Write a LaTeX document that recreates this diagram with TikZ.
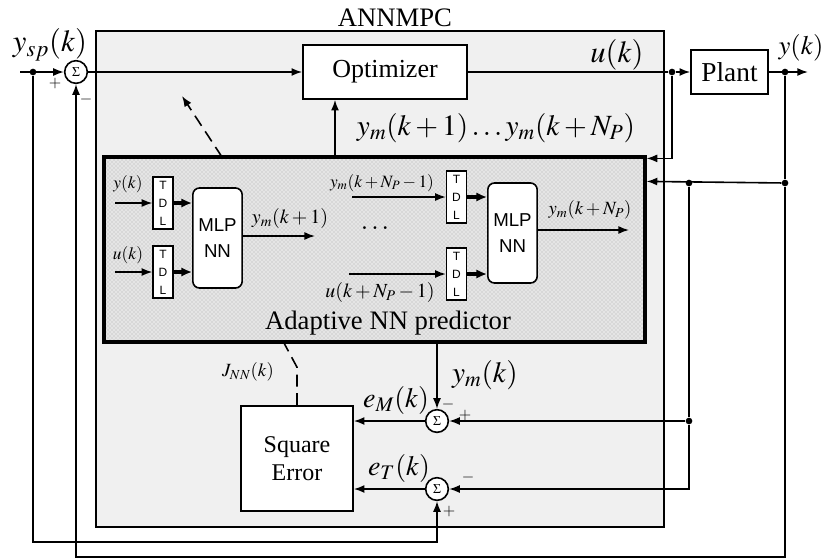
\documentclass[tikz,border=0pt]{standalone}
\usepackage{mathptmx}
\usepackage{fontspec}
\setmainfont{Liberation Serif}
\newfontfamily\timesfont{Liberation Serif}
\newfontfamily\arialfont{Liberation Sans}
\usetikzlibrary{arrows.meta, positioning, patterns}
\newcommand{\fsz}[1]{\fontsize{#1}{#1}\selectfont}

\begin{document}
\begin{tikzpicture}[
  x=0.75pt, y=-0.75pt,
  wire/.style={line width=1.2pt},
  arrow/.style={wire, -{Latex[length=8pt,width=6pt]}},
  fatarrow/.style={line width=2.6pt, -{Latex[length=8pt,width=7pt]}},
  block/.style={draw, line width=1.2pt, fill=white, align=center, inner sep=0pt, font=\timesfont\fsz{19.5pt}},
  sumnode/.style={draw, circle, line width=1.2pt, fill=white, minimum size=17pt, inner sep=0pt, font=\fsz{10pt}},
  tdlbox/.style={draw, line width=1pt, fill=white, minimum width=15pt, minimum height=39pt, inner sep=0pt, align=center, font=\arialfont\fontsize{9pt}{13.5pt}\selectfont},
  mlpbox/.style={draw, line width=1.2pt, fill=white, rounded corners=5pt, minimum width=37pt, minimum height=75pt, inner sep=0pt, align=center, font=\arialfont\fontsize{14pt}{19pt}\selectfont},
  dot/.style={circle, fill, inner sep=0pt, minimum size=5pt},
  lbl/.style={inner sep=0pt},
  sgn/.style={inner sep=0pt, font=\fsz{12pt}}
]
\useasboundingbox (0,0) rectangle (829,558);

\node[draw, line width=1.2pt, fill=black!6, minimum width=426pt, minimum height=372pt] (annmpc) at (380,279) {};
\node[lbl, font=\timesfont\fsz{20pt}] (title) at (395,18) {ANNMPC};
\node[draw, line width=2.4pt, preaction={fill=black!10}, pattern=crosshatch dots, pattern color=black!32, minimum width=405.75pt, minimum height=138.75pt] (pred) at (374.5,249.5) {};

\node[sumnode] (s1) at (76,72) {$\Sigma$};
\node[block, minimum width=123pt, minimum height=40.5pt] (opt) at (385,72) {Optimizer};
\node[block, minimum width=57.75pt, minimum height=33pt, font=\timesfont\fsz{20.5pt}] (plant) at (729.5,72) {Plant};
\node[block, minimum width=84pt, minimum height=78.75pt, font=\timesfont\fontsize{18pt}{21pt}\selectfont] (se) at (297,458.5) {Square\\Error};
\node[sumnode] (sm) at (437,421) {$\Sigma$};
\node[sumnode] (st) at (437,489) {$\Sigma$};

\node[tdlbox] (tdl1) at (163,203) {T\\D\\L};
\node[tdlbox] (tdl2) at (163,272) {T\\D\\L};
\node[mlpbox] (mlp1) at (217.5,238) {MLP\\NN};
\node[tdlbox] (tdl3) at (456.5,197) {T\\D\\L};
\node[tdlbox] (tdl4) at (456.5,274) {T\\D\\L};
\node[mlpbox] (mlp2) at (512.5,233) {MLP\\NN};

\coordinate (ysp) at (20,72);
\coordinate (yend) at (808,72);
\node[dot] (d1) at (33,72) {};
\node[dot] (d2) at (672,72) {};
\node[dot] (d3) at (785,72) {};
\node[dot] (d5) at (785,183) {};
\node[dot] (d4) at (689,183) {};
\node[dot] (d6) at (689,421) {};
\coordinate (c1) at (785,557);
\coordinate (c2) at (33,542);
\coordinate (ymo) at (335,157);
\coordinate (adp) at (222,157);
\coordinate (adq) at (182,96);
\coordinate (jnn) at (284,343);

\draw[arrow] (ysp) -- (s1);
\draw[arrow] (s1) -- (opt);
\draw[wire] (opt) -- (d2);
\draw[arrow] (d2) -- (plant);
\draw[arrow] (plant) -- (yend);
\draw[arrow] (d2) |- ([yshift=-2.25pt]pred.north east);
\draw[wire] (d3) -- (d5);
\draw[arrow] (d5) -- ([yshift=-19.5pt]pred.north east);
\draw[arrow] (d5) -- (c1) -| (s1);
\draw[wire] (d4) -- (d6);
\draw[arrow] (d6) -- (sm);
\draw[arrow] (d6) |- (st);
\draw[arrow] (d1) -- (c2) -| (st);
\draw[arrow] (pred.south -| sm) -- (sm);
\draw[arrow] (sm) -- (sm -| se.east);
\draw[arrow] (st) -- (st -| se.east);
\draw[arrow] (ymo) -- (ymo |- opt.south);
\draw[wire, dash pattern=on 9pt off 5pt, -{Latex[length=8pt,width=6pt]}] (adp) -- (adq);
\draw[wire, dash pattern=on 9pt off 5pt] (se.north) -- ++(0,-38) -- (jnn);

\draw[arrow] (115,203) -- (tdl1);
\draw[arrow] (115,272) -- (tdl2);
\draw[fatarrow] (tdl1.east) -- (tdl1.east -| mlp1.west);
\draw[fatarrow] (tdl2.east) -- (tdl2.east -| mlp1.west);
\draw[arrow] (mlp1.east |- 0,236) -- (315,236);
\draw[arrow] (352,197) -- (tdl3);
\draw[arrow] (349,274) -- (tdl4);
\draw[fatarrow] (tdl3.east) -- (tdl3.east -| mlp2.west);
\draw[fatarrow] (tdl4.east) -- (tdl4.east -| mlp2.west);
\draw[arrow] (mlp2.east |- 0,230) -- (629,230);

\node[lbl, font=\fsz{23pt}] (lysp) at (50,45) {$y_{sp}(k)$};
\node[lbl, font=\fsz{23pt}] (lu) at (617,55) {$u(k)$};
\node[lbl, font=\fsz{20pt}] (ly) at (801,48) {$y(k)$};
\node[lbl, font=\fsz{22pt}] (lym) at (496,128) {$y_m(k+1)\ldots y_m(k+N_P)$};
\node[lbl, font=\fsz{13pt}] (lyk) at (128,184) {$y(k)$};
\node[lbl, font=\fsz{13pt}] (luk) at (128,255) {$u(k)$};
\node[lbl, font=\fsz{15pt}] (ly1) at (290,218) {$y_m(k+1)$};
\node[lbl, font=\fsz{20pt}] (dots) at (375,228) {$\ldots$};
\node[lbl, font=\fsz{13pt}] (lyn1) at (382,183) {$y_m(k+N_P-1)$};
\node[lbl, font=\fsz{15pt}] (lun1) at (380,292) {$u(k+N_P-1)$};
\node[lbl, font=\fsz{14pt}] (lyn) at (590,210) {$y_m(k+N_P)$};
\node[lbl, font=\timesfont\fsz{20pt}] (lpred) at (388,323) {Adaptive NN predictor};
\node[lbl, font=\fsz{22pt}] (lymk) at (485,375) {$y_m(k)$};
\node[lbl, font=\fsz{21pt}] (lem) at (396,400) {$e_M(k)$};
\node[lbl, font=\fsz{21pt}] (let) at (399,468) {$e_T(k)$};
\node[lbl, font=\fsz{14pt}] (ljnn) at (248,372) {$J_{NN}(k)$};

\node[sgn] at (55,83) {$+$};
\node[sgn] at (86,99) {$-$};
\node[sgn] at (448,404) {$-$};
\node[sgn] at (465,415) {$+$};
\node[sgn] at (468,477) {$-$};
\node[sgn] at (449,511) {$+$};
\end{tikzpicture}
\end{document}
